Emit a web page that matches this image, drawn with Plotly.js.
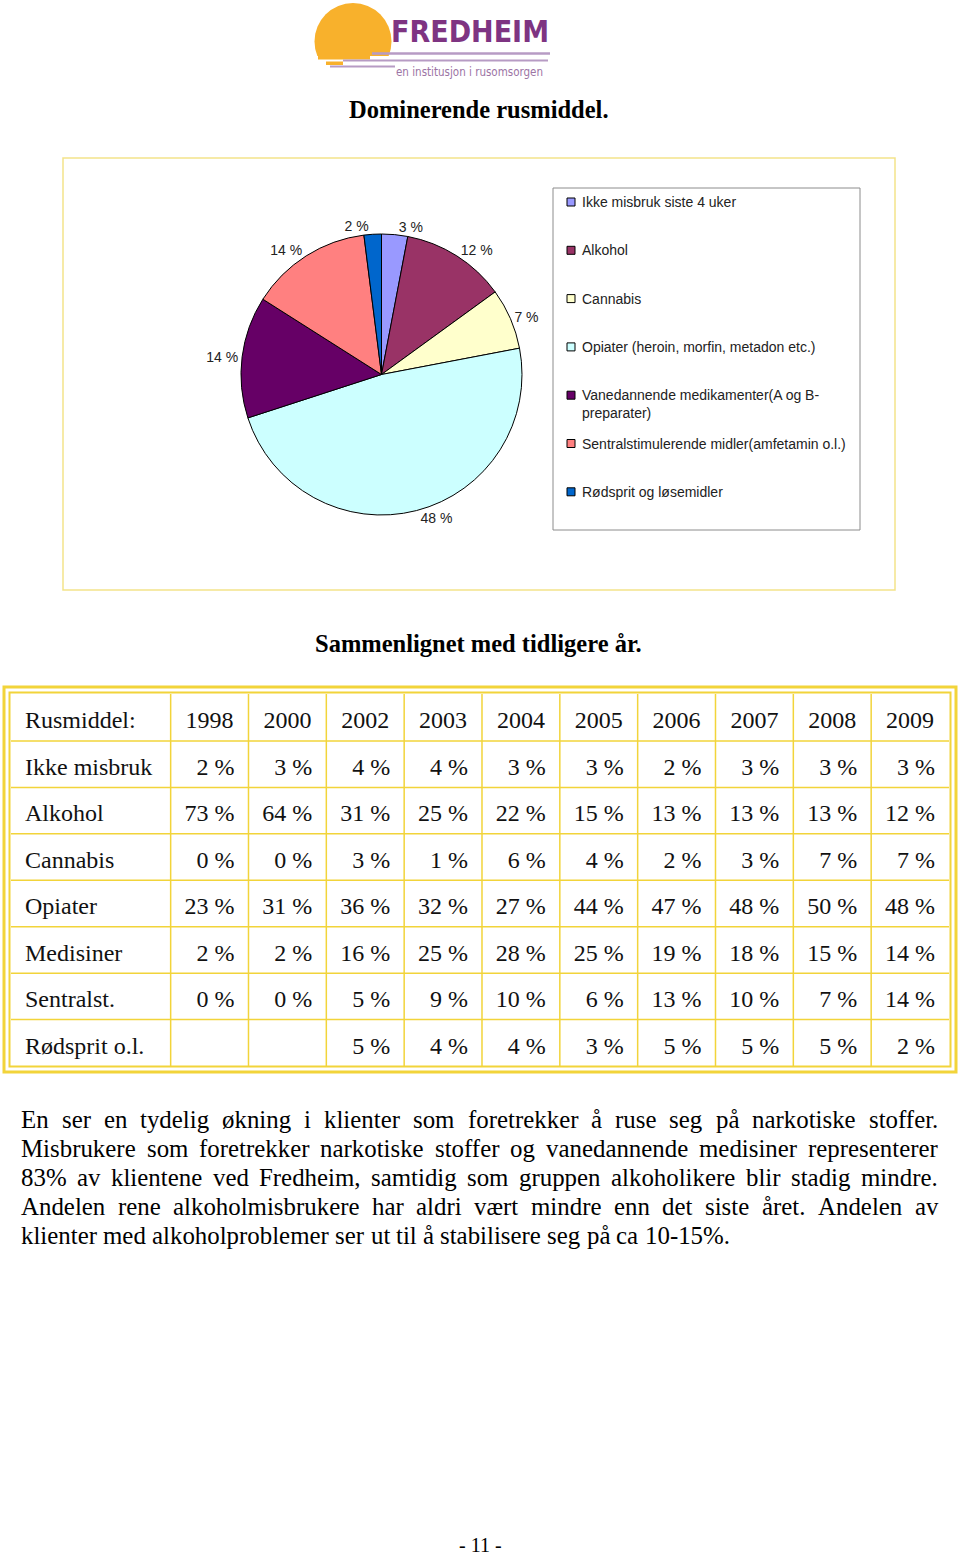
<!DOCTYPE html>
<html><head><meta charset="utf-8">
<script src="https://cdn.plot.ly/plotly-3.0.1.min.js"></script>
<style>html,body{margin:0;padding:0;background:#fff}#chart{width:960px;height:1556px}</style>
</head><body><div id="chart"></div>
<script>
// ---------- data ----------
const pieLabels = ['Ikke misbruk siste 4 uker','Alkohol','Cannabis','Opiater (heroin, morfin, metadon etc.)','Vanedannende medikamenter(A og B-preparater)','Sentralstimulerende midler(amfetamin o.l.)','Rødsprit og løsemidler'];
const legendLabels = ['Ikke misbruk siste 4 uker','Alkohol','Cannabis','Opiater (heroin, morfin, metadon etc.)','Vanedannende medikamenter(A og B-<br>preparater)','Sentralstimulerende midler(amfetamin o.l.)','Rødsprit og løsemidler'];
const pieValues = [3,12,7,48,14,14,2];
const pieColors = ['#9999FF','#993366','#FFFFCC','#CCFFFF','#660066','#FF8080','#0066CC'];

const years = ['1998','2000','2002','2003','2004','2005','2006','2007','2008','2009'];
const rowNames = ['Ikke misbruk','Alkohol','Cannabis','Opiater','Medisiner','Sentralst.','Rødsprit o.l.'];
const ikkeMisbruk = [2,3,4,4,3,3,2,3,3,3];
const alkohol     = [73,64,31,25,22,15,13,13,13,12];
const cannabis    = [0,0,3,1,6,4,2,3,7,7];
const opiater     = [23,31,36,32,27,44,47,48,50,48];
const medisiner   = [2,2,16,25,28,25,19,18,15,14];
const sentralst   = [0,0,5,9,10,6,13,10,7,14];
const rodsprit    = [null,null,5,4,4,3,5,5,5,2];

const bodyLines = [
 'En ser en tydelig økning i klienter som foretrekker å ruse seg på narkotiske stoffer.',
 'Misbrukere som foretrekker narkotiske stoffer og vanedannende medisiner representerer',
 '83% av klientene ved Fredheim, samtidig som gruppen alkoholikere blir stadig mindre.',
 'Andelen rene alkoholmisbrukere har aldri vært mindre enn det siste året. Andelen av',
 'klienter med alkoholproblemer ser ut til å stabilisere seg på ca 10-15%.'
];

// ---------- helpers ----------
const W = 960, H = 1556;
const X = v => v / W;
const Y = v => 1 - v / H;
const NB = '\u00a0';
const SERIF = '"Liberation Serif", "Times New Roman", serif';
const SANS = '"Liberation Sans", Arial, sans-serif';
const NARROW = '"Liberation Sans Narrow", "DejaVu Sans Condensed", "Liberation Sans", sans-serif';
const YEL = '#F2D43A';

const shapes = [];
const annotations = [];
function rect(x0,y0,x1,y1,o){ shapes.push(Object.assign({type:'rect',xref:'paper',yref:'paper',x0:X(x0),x1:X(x1),y0:Y(y1),y1:Y(y0),line:{width:0}},o||{})); }
function line(x0,y0,x1,y1,o){ shapes.push(Object.assign({type:'line',xref:'paper',yref:'paper',x0:X(x0),x1:X(x1),y0:Y(y0),y1:Y(y1)},o||{})); }
function text(t,x,y,o){ annotations.push(Object.assign({text:t,xref:'paper',yref:'paper',x:X(x),y:Y(y),showarrow:false,borderpad:0},o||{})); }

// ---------- logo ----------
shapes.push({type:'circle',xref:'paper',yref:'paper',x0:X(314.5),x1:X(391.5),y0:Y(80),y1:Y(3),fillcolor:'#F8B12C',line:{width:0}});
rect(300,56,400,84,{fillcolor:'#ffffff'});
rect(318,56,370,59.5,{fillcolor:'#F8B12C'});
rect(326,61.5,343,65,{fillcolor:'#F8B12C'});
line(372,53.5,550,53.5,{line:{color:'#B79BC4',width:2.5}});
line(343,60.5,548,60.5,{line:{color:'#B79BC4',width:2}});
line(330,66.5,395,66.5,{line:{color:'#B79BC4',width:2}});
text('<b>FREDHEIM</b>',470,31,{font:{family:NARROW,size:30,color:'#7E3482'},xanchor:'center',yanchor:'middle'});
text('en institusjon i rusomsorgen',469,72,{font:{family:NARROW,size:11.5,color:'#9C74A4'},xanchor:'center',yanchor:'middle'});

// ---------- titles ----------
text('<b>Dominerende rusmiddel.</b>',479,109,{font:{family:SERIF,size:24.5,color:'#000'},xanchor:'center',yanchor:'middle'});
text('<b>Sammenlignet med tidligere år.</b>',478,643,{font:{family:SERIF,size:24.5,color:'#000'},xanchor:'center',yanchor:'middle'});

// ---------- chart frame & legend ----------
rect(63,158,895,590,{line:{color:'#F3E38A',width:1.5}});
rect(553,188,860,530,{line:{color:'#8C8C8C',width:1}});
legendLabels.forEach((lab,i)=>{
  const yy = 202 + i*48.3;
  rect(567,yy-4,575,yy+4,{fillcolor:pieColors[i],line:{color:'#000',width:1}});
  const multi = lab.indexOf('<br>')>=0;
  text(lab,581,multi?yy-9:yy,{font:{family:SANS,size:14,color:'#222'},xanchor:'left',yanchor:multi?'top':'middle',align:'left'});
});

// ---------- table geometry ----------
const TL = 11, TR = 949, TT = 694, TB = 1066, HEAD_H = 47, TEXT_SHIFT = 8;
const colW = [160].concat(years.map(()=>78));
const ROW_H = (TB - TT - HEAD_H) / rowNames.length;
// grid lines
const colSum = colW.reduce((a,b)=>a+b,0);
let acc = TL;
colW.forEach((w,i)=>{
  acc += w * (TR-TL) / colSum;
  if (i < colW.length-1) line(acc, TT, acc, TB, {line:{color:YEL,width:1.5}});
});
line(TL, TT+HEAD_H, TR, TT+HEAD_H, {line:{color:YEL,width:1.5}});
for (let r=1; r<rowNames.length; r++) line(TL, TT+HEAD_H+r*ROW_H, TR, TT+HEAD_H+r*ROW_H, {line:{color:YEL,width:1.5}});
// double border
rect(4,687,956,1072,{line:{color:YEL,width:3}});
rect(9.5,692.5,950.5,1066.5,{line:{color:YEL,width:2}});

// ---------- body text (justified) ----------
const ctx = document.createElement('canvas').getContext('2d');
function tw(s,fs){ ctx.font = fs+'px "Liberation Serif"'; return ctx.measureText(s).width; }
const LEFT = 20, RIGHT = 937;
let bodyFs = 22 * (729 - LEFT) / tw(bodyLines[4],22);
bodyLines.forEach((ln,li)=>{
  const yy = 1119 + li*29;
  const words = ln.split(' ');
  const ws = words.map(w=>tw(w,bodyFs));
  const total = ws.reduce((a,b)=>a+b,0);
  const last = li === bodyLines.length-1;
  const gap = last ? tw(' ',bodyFs) : (RIGHT-LEFT-total)/(words.length-1);
  let cx = LEFT;
  words.forEach((w,k)=>{
    text(w,cx,yy,{font:{family:SERIF,size:bodyFs,color:'#000'},xanchor:'left',yanchor:'middle'});
    cx += ws[k] + gap;
  });
});

// ---------- page number ----------
text('- 11 -',480,1545,{font:{family:SERIF,size:20,color:'#000'},xanchor:'center',yanchor:'middle'});

// ---------- traces ----------
const pie = {
  type:'pie', labels:pieLabels, values:pieValues, sort:false, direction:'clockwise', rotation:0,
  marker:{colors:pieColors,line:{color:'#000',width:1}},
  textposition:'outside', texttemplate:'%{value} %',
  textfont:{family:SANS,size:14,color:'#222'},
  domain:{x:[X(241),X(522)], y:[Y(515),Y(234)]},
  showlegend:false, hoverinfo:'label+value'
};

const rows = [ikkeMisbruk,alkohol,cannabis,opiater,medisiner,sentralst,rodsprit];
const nameCol = rowNames.map(s => NB + s.replace(/ /g, NB));
const cellCols = [nameCol].concat(years.map((yr,j)=>rows.map(r=> r[j]==null ? '' : r[j] + NB + '%' + NB)));
const table = {
  type:'table',
  domain:{x:[X(TL),X(TR)], y:[Y(TB+TEXT_SHIFT),Y(TT+TEXT_SHIFT)]},
  columnwidth:colW,
  header:{
    values:[NB + 'Rusmiddel:'].concat(years),
    align:['left'].concat(years.map(()=>'center')),
    height:HEAD_H,
    fill:{color:'rgba(0,0,0,0)'},
    line:{color:'rgba(0,0,0,0)',width:0},
    font:{family:SERIF,size:24,color:'#111'}
  },
  cells:{
    values:cellCols,
    align:['left'].concat(years.map(()=>'right')),
    height:ROW_H,
    fill:{color:'rgba(0,0,0,0)'},
    line:{color:'rgba(0,0,0,0)',width:0},
    font:{family:SERIF,size:24,color:'#111'}
  }
};

const layout = {
  width:W, height:H, margin:{l:0,r:0,t:0,b:0,pad:0},
  paper_bgcolor:'#ffffff', plot_bgcolor:'#ffffff', showlegend:false,
  shapes:shapes, annotations:annotations
};
Plotly.newPlot('chart',[pie,table],layout,{displayModeBar:false,staticPlot:true});
</script>
</body></html>
